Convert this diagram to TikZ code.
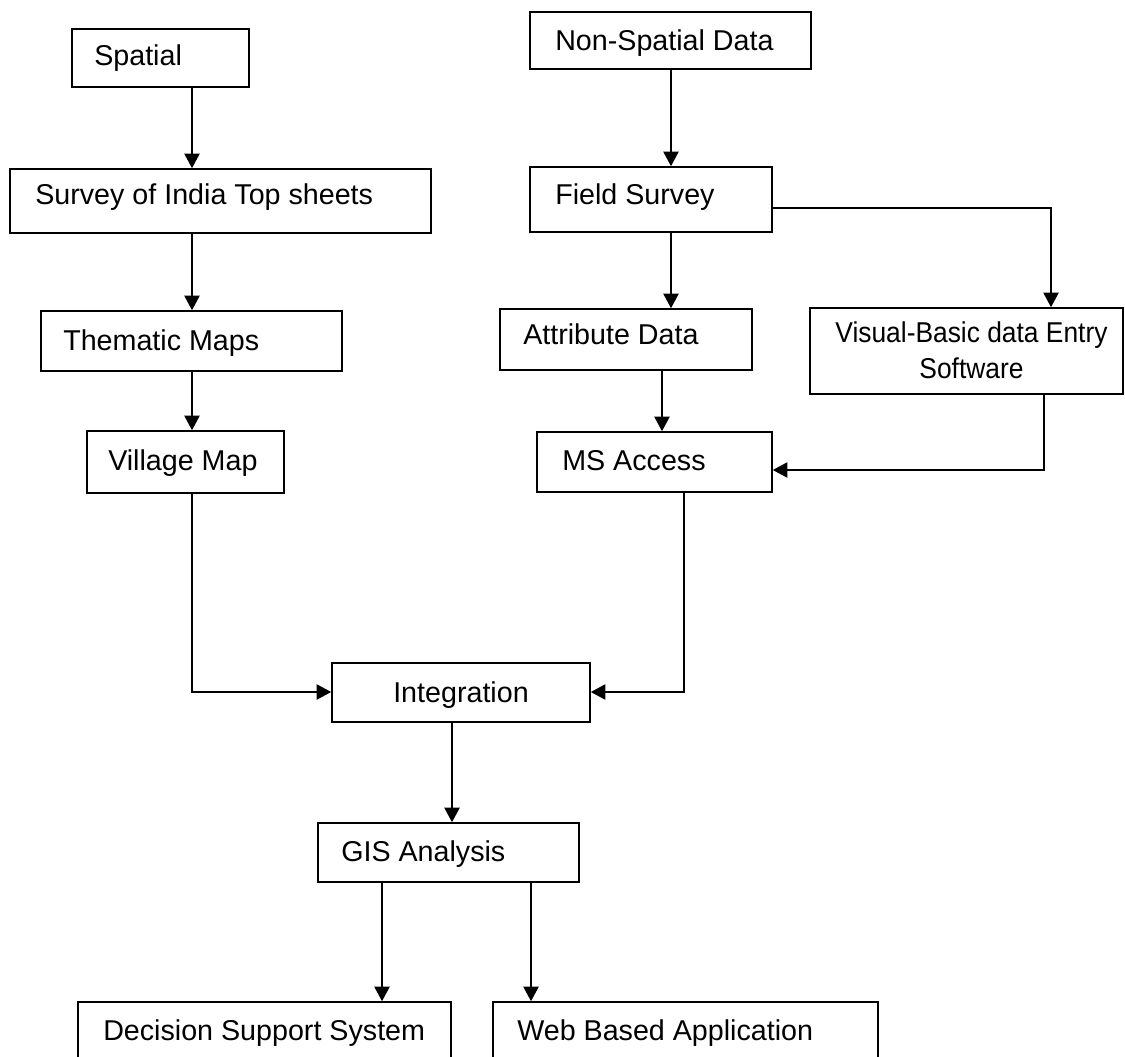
\documentclass[tikz,border=0pt]{standalone}
\usepackage{fontspec}
\setmainfont{Liberation Sans}
\usetikzlibrary{arrows.meta,fit}
\begin{document}
\begin{tikzpicture}[x=0.75pt,y=-0.75pt,
  box/.style={draw=black, line width=1.2pt, inner sep=0pt},
  lbl/.style={anchor=base west, inner sep=0pt, font=\fontsize{21.5}{26}\selectfont},
  clbl/.style={anchor=base, inner sep=0pt, font=\fontsize{21.5}{26}\selectfont},
  arr/.style={line width=1.2pt, -{Triangle[length=11pt,width=11.5pt]}}]
\useasboundingbox (0,0) rectangle (1125,1057);
\clip (0,0) rectangle (1125,1057);
% boxes
\node[box, fit={(72,29) (249,87)}] (spatial) {};
\node[box, fit={(10,169) (431,233)}] (survey) {};
\node[box, fit={(41,311) (342,371)}] (thematic) {};
\node[box, fit={(87,431) (284,493)}] (village) {};
\node[box, fit={(530,12) (811,69)}] (nonspatial) {};
\node[box, fit={(530,167) (772,232)}] (field) {};
\node[box, fit={(500,309) (752,370)}] (attribute) {};
\node[box, fit={(810,308) (1123,394)}] (visual) {};
\node[box, fit={(537,432) (772,492)}] (access) {};
\node[box, fit={(332,663) (590,722)}] (integration) {};
\node[box, fit={(318,823) (579,882)}] (gis) {};
\node[box, fit={(78,1002) (451,1066)}] (decision) {};
\node[box, fit={(493,1002) (878,1066)}] (web) {};
% labels
\node[lbl] (tspatial) at (94,65) {Spatial};
\node[lbl] (tsurvey) at (35,204) {Survey of India Top sheets};
\node[lbl] (tthematic) at (63,350) {Thematic Maps};
\node[lbl] (tvillage) at (108,470) {Village Map};
\node[lbl] (tnonspatial) at (555,50) {Non-Spatial Data};
\node[lbl] (tfield) at (555,204) {Field Survey};
\node[lbl] (tattribute) at (523,344) {Attribute Data};
\node[clbl] (tvisual1) at (971.5,342) {\scalebox{0.92}[1]{Visual-Basic data Entry}};
\node[clbl] (tvisual2) at (971.5,378) {\scalebox{0.92}[1]{Software}};
\node[lbl] (taccess) at (562,470) {MS Access};
\node[lbl] (tintegration) at (393,702) {Integration};
\node[lbl] (tgis) at (341,861) {GIS Analysis};
\node[lbl] (tdecision) at (103,1040) {Decision Support System};
\node[lbl] (tweb) at (517,1040) {Web Based Application};
% connector columns / rows
\coordinate (colL) at (192,0);
\coordinate (colN) at (671,0);
\coordinate (colA) at (662,0);
\coordinate (colV) at (1051,0);
\coordinate (colVo) at (1044,0);
\coordinate (colM) at (684,0);
\coordinate (colI) at (452,0);
\coordinate (colD) at (382,0);
\coordinate (colW) at (531,0);
\coordinate (rowF) at (0,208);
\coordinate (rowV) at (0,470);
\coordinate (rowI) at (0,692);
% connectors
\draw[arr] (spatial.south -| colL) -- (survey.north -| colL);
\draw[arr] (survey.south -| colL) -- (thematic.north -| colL);
\draw[arr] (thematic.south -| colL) -- (village.north -| colL);
\draw[arr] (village.south -| colL) |- (integration.west |- rowI);
\draw[arr] (nonspatial.south -| colN) -- (field.north -| colN);
\draw[arr] (field.south -| colN) -- (attribute.north -| colN);
\draw[arr] (field.east |- rowF) -| (visual.north -| colV);
\draw[arr] (attribute.south -| colA) -- (access.north -| colA);
\draw[arr] (visual.south -| colVo) |- (access.east |- rowV);
\draw[arr] (access.south -| colM) |- (integration.east |- rowI);
\draw[arr] (integration.south -| colI) -- (gis.north -| colI);
\draw[arr] (gis.south -| colD) -- (decision.north -| colD);
\draw[arr] (gis.south -| colW) -- (web.north -| colW);
\end{tikzpicture}
\end{document}
